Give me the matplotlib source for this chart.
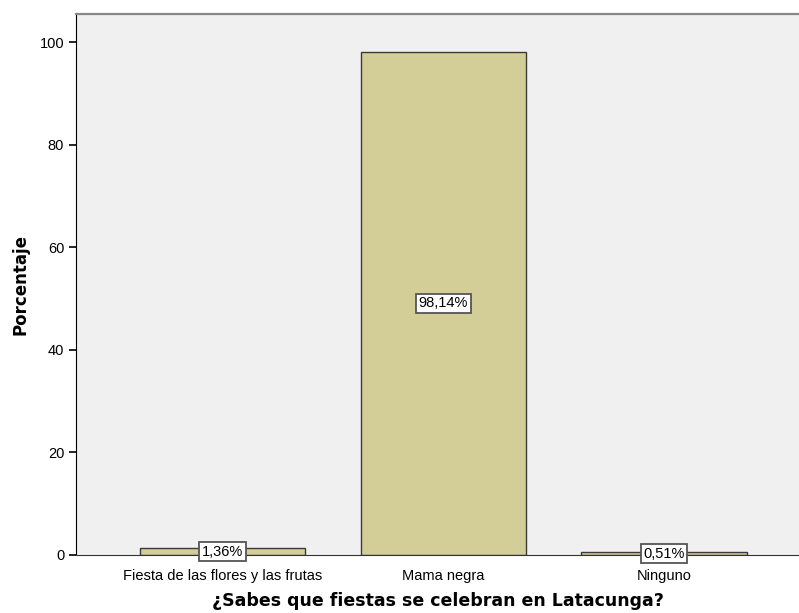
import matplotlib
matplotlib.use("Agg")
import matplotlib.pyplot as plt

plt.rcParams["font.family"] = ["Liberation Sans", "DejaVu Sans"]

categories = ["Fiesta de las flores y las frutas", "Mama negra", "Ninguno"]
values = [1.36, 98.14, 0.51]
labels = ["1,36%", "98,14%", "0,51%"]

fig = plt.figure(figsize=(7.99, 6.13), dpi=100)
ax = fig.add_axes([76 / 799, 1 - 555 / 613, 1 - 76 / 799 + 0.002, (555 - 14) / 613])
ax.set_facecolor("#F0F0F0")

x = range(len(categories))
ax.bar(x, values, width=0.75, color="#D3CE97", edgecolor="#3A3A3A", linewidth=1.0, zorder=2)

for i, (v, lab) in enumerate(zip(values, labels)):
    ax.text(i, v / 2, lab, ha="center", va="center", fontsize=10.5, zorder=3,
            bbox=dict(boxstyle="square,pad=0.18", facecolor="white", edgecolor="#555555", linewidth=1.3))

ax.set_xlim(-0.665, 2.62)
ax.set_ylim(0, 105.5)
ax.set_yticks([0, 20, 40, 60, 80, 100])
ax.set_xticks(list(x))
ax.set_xticklabels(categories, fontsize=10.5)
ax.tick_params(axis="y", labelsize=10.5, length=5, width=1.2, direction="out")
ax.tick_params(axis="x", length=0, pad=10)

ax.spines["left"].set_color("black")
ax.spines["bottom"].set_color("#333333")
ax.spines["top"].set_color("#888888")
ax.spines["top"].set_linewidth(1.6)
ax.spines["right"].set_visible(False)

ax.set_ylabel("Porcentaje", fontsize=12, fontweight="bold", family="DejaVu Sans", labelpad=7)
# x title sits close to the bottom edge, place it by hand
fig.text(437.5 / 799, 1 - 606 / 613, "¿Sabes que fiestas se celebran en Latacunga?", ha="center",
         va="baseline", fontsize=12.5, fontweight="bold", family="DejaVu Sans")

fig.savefig("out.png", dpi=100)
